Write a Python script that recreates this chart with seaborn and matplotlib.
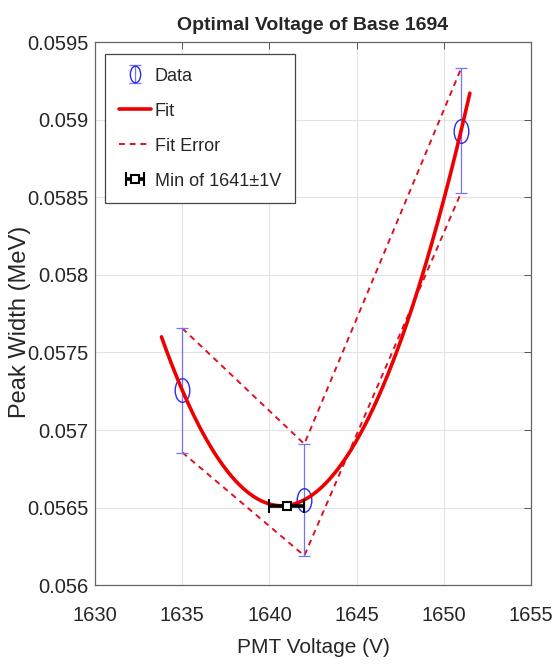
import numpy as np
import matplotlib
matplotlib.use("Agg")
import matplotlib.pyplot as plt
import seaborn as sns
from matplotlib.path import Path
from matplotlib.lines import Line2D

voltage = [1635, 1642, 1651]
width = [0.057255, 0.05655, 0.05893]
width_err = [0.00040, 0.00036, 0.00040]

# range of the fit curve and the minimum found from it
fit_start = 1633.8
fit_end = 1651.5
min_voltage = 1641
min_err = 1
min_width = 0.05651

x_ticks = [1630, 1635, 1640, 1645, 1650, 1655]
y_ticks = [0.056, 0.0565, 0.057, 0.0575, 0.058, 0.0585, 0.059, 0.0595]
y_labels = ["0.056", "0.0565", "0.057", "0.0575", "0.058", "0.0585", "0.059", "0.0595"]

sns.set_theme(style="whitegrid")
plt.rcParams['font.family'] = ['Liberation Sans', 'DejaVu Sans']

fig = plt.figure(figsize=(5.57, 6.68), dpi=100)
ax = fig.add_axes([0.171, 0.124, 0.782, 0.813])
ax.set_facecolor("white")

# quadratic fit of the data
coef = np.polyfit(voltage, width, 2)
xs = np.linspace(fit_start, fit_end, 200)
ys = np.polyval(coef, xs)

upper = [w + e for w, e in zip(width, width_err)]
lower = [w - e for w, e in zip(width, width_err)]

# ellipse marker (circles look squeezed in the original)
circ = Path.unit_circle()
ellipse = Path(circ.vertices * [0.62, 1.0], circ.codes)

data_h = ax.errorbar(voltage, width, yerr=width_err, fmt="none", ecolor="#7373ff",
                     elinewidth=0.9, capsize=4, capthick=0.9, zorder=3)
ax.plot(voltage, width, linestyle="none", marker=ellipse, markersize=17,
        mfc="none", mec="#2a2aee", mew=1.0, zorder=4)
sns.lineplot(x=xs, y=ys, ax=ax, color="#ee0000", linewidth=2.6, zorder=5)
sns.lineplot(x=voltage, y=upper, ax=ax, color="#dd1122", linewidth=1.4,
             linestyle=(0, (3, 2.5)), zorder=2)
sns.lineplot(x=voltage, y=lower, ax=ax, color="#dd1122", linewidth=1.4,
             linestyle=(0, (3, 2.5)), zorder=2)
min_h = ax.errorbar([min_voltage], [min_width], xerr=[min_err], fmt="s", color="black",
                    mfc="white", mec="black", mew=1.5, markersize=6, elinewidth=2.6,
                    capsize=5, capthick=2.0, zorder=6)

ax.set_xlim(1630, 1655)
ax.set_ylim(0.056, 0.0595)
ax.set_xticks(x_ticks)
ax.set_xticklabels([str(v) for v in x_ticks])
ax.set_yticks(y_ticks)
ax.set_yticklabels(y_labels)
ax.tick_params(direction="in", top=True, right=True, length=5, width=0.7,
               colors="#555555", labelcolor="#262626", labelsize=14.5)
ax.tick_params(axis="x", pad=15)
ax.tick_params(axis="y", pad=5)
ax.grid(True, color="#e3e3e3", linewidth=0.8)
for s in ax.spines.values():
    s.set_color("#666666")
    s.set_linewidth(0.9)

ax.set_title("Optimal Voltage of Base 1694", fontsize=14, fontweight="bold", pad=9)
ax.set_xlabel("PMT Voltage (V)", fontsize=15, color="#262626", labelpad=9)
ax.set_ylabel("Peak Width (MeV)", fontsize=17, color="#262626")
ax.yaxis.set_label_coords(-0.148, 0.485)

# legend handles
data_leg = Line2D([], [], color="#7373ff", linestyle="none", marker=ellipse,
                  markersize=12, mfc="none", mec="#2a2aee")
fit_h = Line2D([], [], color="#ee0000", linewidth=2.6)
err_h = Line2D([], [], color="#dd1122", linewidth=1.4, linestyle=(0, (3, 2.5)))
leg = ax.legend([(data_h, data_leg), fit_h, err_h, min_h],
                ["Data", "Fit", "Fit Error", "Min of 1641\u00b11V"],
                loc="upper left", bbox_to_anchor=(0.023, 0.978), fontsize=13,
                frameon=True, fancybox=False, framealpha=1, edgecolor="#444444",
                handlelength=1.8, handletextpad=0.2, borderpad=0.75,
                borderaxespad=0, labelspacing=1.0)
leg.get_frame().set_linewidth(0.9)

fig.savefig("out.png", dpi=100)
